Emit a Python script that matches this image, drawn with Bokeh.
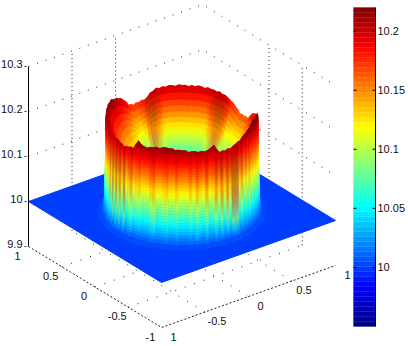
import numpy as np
from bokeh.plotting import figure
from bokeh.embed import file_html
from bokeh.resources import INLINE
from bokeh.core.properties import value

# ---------- data ----------
z_ticks = [9.9, 10.0, 10.1, 10.2, 10.3]
z_labels = ["9.9", "10", "10.1", "10.2", "10.3"]
x_ticks = [-1, -0.5, 0, 0.5, 1]
x_labels = ["1", "-0.5", "0", "0.5", "1"]
y_ticks = [1, 0.5, 0, -0.5, -1]
y_labels = ["1", "0.5", "0", "-0.5", "-1"]
cb_ticks = [10.0, 10.05, 10.1, 10.15, 10.2]
cb_labels = ["10", "10.05", "10.1", "10.15", "10.2"]
z_floor = 9.9
z_plate = 10.0
c_min, c_max = 9.95, 10.22

# rim crest height above plate, by angle around the ring
rim_phi = [-180,-170,-160,-150,-140,-130,-125,-120,-110,-100,-90,-80,-70,-65,-60,-50,-40,-30,-20,-10,
           0,10,20,30,40,50,60,70,80,90,100,110,115,120,130,135,140,150,160,170,180]
rim_dz = [.217,.214,.205,.200,.195,.200,.218,.210,.214,.216,.212,.207,.208,.216,.197,.200,.207,.218,.228,.225,
          .215,.200,.190,.166,.167,.186,.196,.199,.200,.201,.200,.199,.190,.178,.177,.180,.196,.211,.219,.217,.217]
rim_jag = [.000,.0015,-.001,.001,.002,-.0005,.001,-.0015,.0005]
rim_r = 0.69
# outer wall profile
out_f = [1,.97,.93,.88,.82,.75,.68,.6,.52,.45,.38,.31,.25,.2,.15,.11,.07,.04,.02,0]
out_r = [.690,.692,.694,.695,.696,.697,.698,.699,.700,.701,.702,.703,.704,.705,.707,.710,.715,.722,.735,.770]
# inner wall profile
in_w = [0,.01,.02,.04,.07,.11,.15,.25,.40,.60]
in_f = [1,.93,.86,.75,.60,.47,.42,.35,.30,.25]
in_k_phi = [-180,-150,-120,-60,-30,0,30,60,120,140,160,180]
in_k = [3.0,2.6,1.0,1.0,2.2,2.8,2.2,1.1,1.1,2.6,3.2,3.0]
# vertical streaks on the outer wall, every 2.5 degrees from -180 to 0
wall_s = [0,0,.1,.1,.2,.1,.4,.2,.8,.2,.9,.3,.9,.4,.8,.2,.9,.1,.3,.5,.1,.2,.3,.1,
          .1,.1,.3,.4,.1,.1,.2,.3,.1,.1,.3,.1,.1,.1,.3,.1,.4,.2,.1,.5,.1,.2,.6,.2,
          .7,.2,.7,.3,1.,1.,.9,.2,.5,.1,.3,.1,.4,.1,.2,.1,.1,.2,.1,.1,.1,.1,0,0]
# vertical streaks on the inner wall
inner_phi = [50,55,60,65,70,105,110,115,117.5,120,125]
inner_s = [.2,.7,.9,.5,.1,.1,.5,.9,.9,.3,.1]

# ---------- view (orthographic box) ----------
ORG = (181.5, 255.5)
XV = (87.0, 31.0)
YV = (-66.5, 40.5)
ZS = 450.0
def proj(x, y, z):
    x, y, z = np.asarray(x, float), np.asarray(y, float), np.asarray(z, float)
    return ORG[0] + XV[0]*x + YV[0]*y, ORG[1] - XV[1]*x - YV[1]*y - (z - z_floor)*ZS

def jet(v):
    v = np.clip(v, 0, 1)
    r = np.clip(np.minimum(4*v-1.5, -4*v+4.5), 0, 1)
    g = np.clip(np.minimum(4*v-0.5, -4*v+3.5), 0, 1)
    b = np.clip(np.minimum(4*v+0.5, -4*v+2.5), 0, 1)
    return np.array([r, g, b])
def cmap(z):
    return jet((z - c_min)/(c_max - c_min))
def hexc(c):
    return "#%02x%02x%02x" % tuple(int(round(255*t)) for t in c)

p = figure(width=408, height=346, x_range=(0, 408), y_range=(346, 0), output_backend="svg",
           toolbar_location=None, min_border=0, outline_line_color=None)
p.axis.visible = False
p.grid.visible = False

def line3(x, y, z, dash, color="#222222", w=1):
    px, py = proj(x, y, z)
    p.line(px.tolist(), py.tolist(), line_color=color, line_width=w, line_dash=dash)

# back walls
for zt in z_ticks[2:]:
    line3([-1, 1, 1], [1, 1, -1], [zt]*3, "1 8")
for xt in x_ticks[1:3]:
    line3([xt, xt], [1, 1], [z_floor, z_ticks[-1]], "1 3")
for yt in y_ticks[2:4]:
    line3([1, 1], [yt, yt], [z_floor, z_ticks[-1]], "1 3")
# floor grid
for xt in x_ticks[1:4]:
    line3([xt, xt], [-1, 1], [z_floor]*2, "1 9")
for yt in y_ticks[1:4]:
    line3([-1, 1], [yt, yt], [z_floor]*2, "1 9")
# front floor edges
line3([-1, -1, 1], [1, -1, -1], [z_floor]*3, "2 2")
# vertical axis
line3([-1, -1], [1, 1], [z_floor, z_ticks[-1]], "solid", "#000000")
px, py = proj([-1]*5, [1]*5, z_ticks)
p.segment((px-4).tolist(), py.tolist(), (px-2).tolist(), py.tolist(), line_color="#333333")

# plate
px, py = proj([-1, -1, 1, 1], [1, -1, -1, 1], [z_plate]*4)
p.patch(px.tolist(), py.tolist(), fill_color=hexc(cmap(z_plate)), line_color=hexc(cmap(z_plate)))

# ring
phis = np.arange(-180, 180.01, 2.5)
rim_at = np.interp(phis, rim_phi, rim_dz) + np.array([rim_jag[i % len(rim_jag)] for i in range(len(phis))])
rim_at[-1] = rim_at[0]
k_at = np.interp(phis, in_k_phi, in_k)
def world(r, ph):
    a = np.radians(ph)
    return (r*(XV[0]/109.5*np.cos(a) + XV[1]/51*np.sin(a)),
            r*(YV[0]/109.5*np.cos(a) + YV[1]/51*np.sin(a)))

quads = []
def add(r1, r2, z1, z2, ph1, ph2, s):
    xa, ya = world(np.array([r1[0], r1[1], r2[1], r2[0]]), np.array([ph1, ph2, ph2, ph1]))
    zz = np.array([z1[0], z1[1], z2[1], z2[0]])
    qx, qy = proj(xa, ya, zz)
    zm = zz.mean()
    dz = zm - z_plate
    c = cmap(zm)
    if s > 0:
        d = 0.1*s*min(1.0, dz/0.05)*min(1.0, max(0.0, (0.22-dz)/0.07))
        c = 0.55*c + 0.45*cmap(zm + d)
    pm = np.radians((ph1+ph2)/2)
    rm = np.mean([r1[0], r2[0]])
    quads.append((rm*np.sin(pm), qx.tolist(), qy.tolist(), hexc(c)))

fo = np.linspace(1, 0, 34)
ro = np.interp(fo, out_f[::-1], out_r[::-1])
wi = np.concatenate([np.linspace(0, .15, 15), in_w[7:]])
fi = np.interp(wi, in_w, in_f)
for i in range(len(phis)-1):
    a, b = phis[i], phis[i+1]
    h = rim_at[i:i+2]
    k = k_at[i:i+2]
    pm = (a+b)/2
    s_o = wall_s[i] if i < len(wall_s) else 0.0
    s_i = float(np.interp(pm, inner_phi, inner_s, left=0, right=0))
    for j in range(len(fo)-1):
        add([ro[j]]*2, [ro[j+1]]*2, z_plate + fo[j]*h, z_plate + fo[j+1]*h, a, b, s_o)
    for j in range(len(fi)-1):
        r1 = np.maximum(rim_r - wi[j]*k, 0.01)
        r2 = np.maximum(rim_r - wi[j+1]*k, 0.01)
        add(r1, r2, z_plate + fi[j]*h, z_plate + fi[j+1]*h, a, b, s_i)
quads.sort(key=lambda q: -q[0])
cols = [q[3] for q in quads]
p.patches([q[1] for q in quads], [q[2] for q in quads], fill_color=cols, line_color=cols, line_width=0.5)

# colour bar (drawn on its own linear mapping)
CB_L, CB_R, CB_T, CB_B = 353, 375, 7, 326
def cby(z):
    return CB_B + (np.asarray(z, float) - c_min)*(CB_T - CB_B)/(c_max - c_min)
lev = np.linspace(c_min, c_max, 65)
cc = [hexc(cmap((lev[i]+lev[i+1])/2)) for i in range(64)]
p.quad(left=CB_L, right=CB_R, top=cby(lev[1:]).tolist(), bottom=cby(lev[:-1]).tolist(), fill_color=cc, line_color=cc, line_width=0.3)
p.line([CB_R, CB_R], [CB_T, CB_B], line_color="#000000")
yy = cby(cb_ticks)
p.segment([CB_L]*5, yy.tolist(), [CB_L+3]*5, yy.tolist(), line_color="#000000")
p.segment([CB_R-3]*5, yy.tolist(), [CB_R]*5, yy.tolist(), line_color="#000000")

# texts
font = value("Liberation Sans")
def label(x, y, t, align):
    p.text(x, y, text=t, text_font=font, text_font_size="11px", text_color="#111111",
           text_align=align, text_baseline="middle")
label((yy*0+377).tolist(), yy.tolist(), cb_labels, "left")
px, py = proj([-1]*5, [1]*5, z_ticks)
label((px-6).tolist(), (py-3).tolist(), z_labels, "right")
px, py = proj(x_ticks, [-1]*5, [z_floor]*5)
label((px+12).tolist(), (py+9).tolist(), x_labels, "center")
px, py = proj([-1]*5, y_ticks, [z_floor]*5)
label((px-11).tolist(), (py+9).tolist(), y_labels, "center")

open("out.html", "w").write(file_html(p, INLINE))
